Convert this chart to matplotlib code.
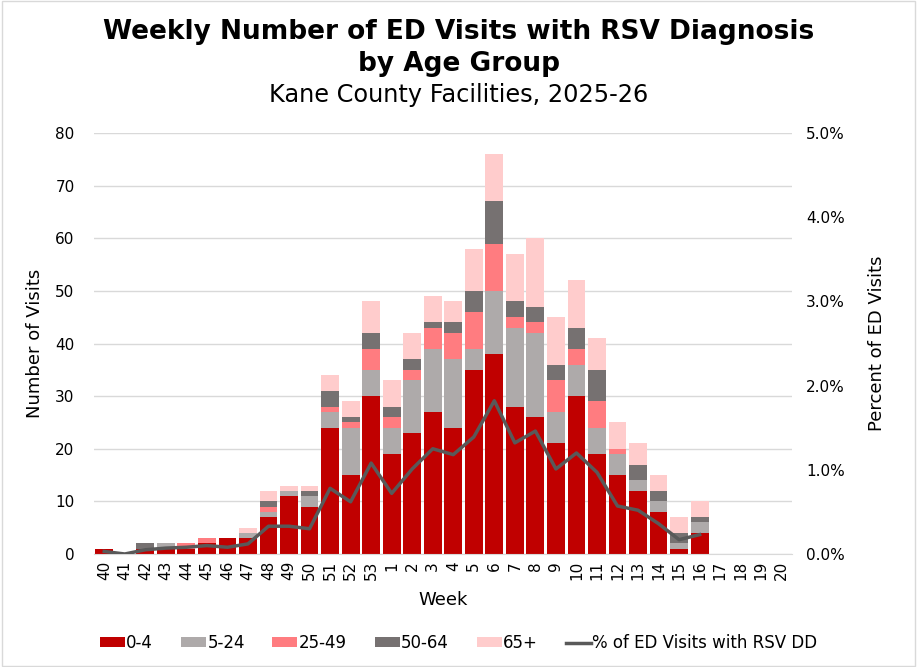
import matplotlib.pyplot as plt
from matplotlib.patches import Rectangle
from matplotlib.ticker import FuncFormatter

plt.rcParams['font.family'] = ['DejaVu Sans']

weeks = ['40', '41', '42', '43', '44', '45', '46', '47', '48', '49', '50', '51', '52', '53',
         '1', '2', '3', '4', '5', '6', '7', '8', '9', '10', '11', '12', '13', '14', '15', '16',
         '17', '18', '19', '20']

# counts by age group (weeks 17-20 have no data yet)
age_0_4 = [1, 0, 1, 1, 1, 2, 3, 3, 7, 11, 9, 24, 15, 30,
           19, 23, 27, 24, 35, 38, 28, 26, 21, 30, 19, 15, 12, 8, 1, 4, 0, 0, 0, 0]
age_5_24 = [0, 0, 0, 1, 0, 0, 0, 1, 1, 1, 2, 3, 9, 5,
            5, 10, 12, 13, 4, 12, 15, 16, 6, 6, 5, 4, 2, 2, 1, 2, 0, 0, 0, 0]
age_25_49 = [0, 0, 0, 0, 1, 1, 0, 0, 1, 0, 0, 1, 1, 4,
             2, 2, 4, 5, 7, 9, 2, 2, 6, 3, 5, 1, 0, 0, 0, 0, 0, 0, 0, 0]
age_50_64 = [0, 0, 1, 0, 0, 0, 0, 0, 1, 0, 1, 3, 1, 3,
             2, 2, 1, 2, 4, 8, 3, 3, 3, 4, 6, 0, 3, 2, 2, 1, 0, 0, 0, 0]
age_65 = [0, 0, 0, 0, 0, 0, 0, 1, 2, 1, 1, 3, 3, 6,
          5, 5, 5, 4, 8, 9, 9, 13, 9, 9, 6, 5, 4, 3, 3, 3, 0, 0, 0, 0]

# percent of ED visits with RSV diagnosis, weeks 40-16
pct_rsv = [0.03, 0.0, 0.05, 0.07, 0.08, 0.10, 0.08, 0.12, 0.33, 0.33, 0.30, 0.78, 0.62, 1.08,
           0.72, 1.01, 1.25, 1.18, 1.39, 1.82, 1.32, 1.46, 1.01, 1.20, 0.97, 0.57, 0.52, 0.36,
           0.17, 0.23]

groups = [('0-4', age_0_4, '#C00000'),
          ('5-24', age_5_24, '#AEAAAA'),
          ('25-49', age_25_49, '#FF7C80'),
          ('50-64', age_50_64, '#767171'),
          ('65+', age_65, '#FFCCCC')]

fig = plt.figure(figsize=(9.17, 6.67), dpi=100)
ax = fig.add_axes([94 / 917, 1 - 554 / 667, 698 / 917, 421 / 667])

x = list(range(len(weeks)))
bottom = [0] * len(weeks)
handles = []
for name, vals, color in groups:
    b = ax.bar(x, vals, width=0.87, bottom=bottom, color=color, label=name, zorder=2)
    handles.append(b)
    bottom = [bt + v for bt, v in zip(bottom, vals)]

ax.set_xlim(-0.5, len(weeks) - 0.5)
ax.set_ylim(0, 80)
ax.set_yticks(range(0, 81, 10))
ax.set_xticks(x)
ax.set_xticklabels(weeks, rotation=90, fontsize=11)
ax.tick_params(axis='y', labelsize=11, length=0, pad=14)
ax.tick_params(axis='x', length=0, pad=5)
ax.grid(axis='y', color='#D9D9D9', linewidth=1, zorder=0)
for s in ['top', 'right', 'left']:
    ax.spines[s].set_visible(False)
ax.spines['bottom'].set_color('#D9D9D9')
ax.set_ylabel('Number of Visits', fontsize=13, labelpad=8)
ax.set_xlabel('Week', fontsize=13, labelpad=8)

ax2 = ax.twinx()
line, = ax2.plot(x[:len(pct_rsv)], pct_rsv, color='#595959', linewidth=2.5,
                 label='% of ED Visits with RSV DD', zorder=3)
ax2.set_ylim(0, 5)
ax2.set_yticks([0, 1, 2, 3, 4, 5])
ax2.yaxis.set_major_formatter(FuncFormatter(lambda v, p: f'{v:.1f}%'))
ax2.tick_params(axis='y', labelsize=11, length=0, pad=10)
for s in ['top', 'right', 'left', 'bottom']:
    ax2.spines[s].set_visible(False)
ax2.set_ylabel('Percent of ED Visits', fontsize=13, labelpad=17)

fig.text(0.5, 1 - 32 / 667, 'Weekly Number of ED Visits with RSV Diagnosis', ha='center',
         va='center', fontsize=19, fontweight='bold')
fig.text(0.5, 1 - 64 / 667, 'by Age Group', ha='center', va='center',
         fontsize=19, fontweight='bold')
fig.text(0.5, 1 - 95 / 667, 'Kane County Facilities, 2025-26', ha='center', va='center',
         fontsize=17.3)

fig.legend(handles + [line], [g[0] for g in groups] + [line.get_label()],
           loc='center', bbox_to_anchor=(0.5, 1 - 643 / 667), ncol=6, frameon=False,
           fontsize=12, handlelength=1.5, handleheight=0.5, columnspacing=1.65,
           handletextpad=0.1)

fig.patches.append(Rectangle((0.002, 0.002), 0.996, 0.996, transform=fig.transFigure,
                             fill=False, edgecolor='#D9D9D9', linewidth=1))

plt.savefig('out.png')
